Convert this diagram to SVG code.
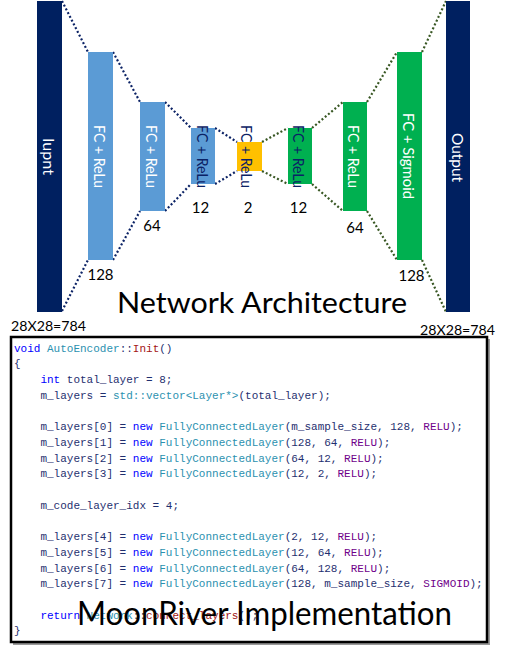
<svg xmlns="http://www.w3.org/2000/svg" width="506" height="653" viewBox="0 0 506 653">
<style>
.lbl{font-family:Lato,"Open Sans","Liberation Sans",sans-serif;font-size:16px;text-anchor:middle;dominant-baseline:central}
.w{fill:#ffffff}
.n{fill:#0b2265}
.num{font-family:Lato,"Open Sans","Liberation Sans",sans-serif;font-size:15px;text-anchor:middle;fill:#000}
.dim{font-family:Lato,"Open Sans","Liberation Sans",sans-serif;font-size:14px;fill:#000}
.title{font-family:Lato,"Open Sans","Liberation Sans",sans-serif;fill:#000}
.code{font-family:"Liberation Mono","DejaVu Sans Mono",monospace;font-size:11px;fill:#1f2f6f}
.k{fill:#0000ff}.t{fill:#2b91af}.f{fill:#a31515}.m{fill:#6f008a}
.cl{fill:none;stroke:#0b2265;stroke-width:2.2;stroke-dasharray:2 2.2}
.cr{fill:none;stroke:#385723;stroke-width:2.2;stroke-dasharray:2 2.2}
.dark{fill:#002060}.blue{fill:#5b9bd5}.yel{fill:#ffc000}.grn{fill:#00b050}
</style>
<rect width="506" height="653" fill="#fff"/>
<g id="connectors">
<path class="cl" d="M62 1L88 52M62 311L88 260M113 52L140 102M113 260L140 211M165 102L191 128M165 211L191 184M215 128L237 142M215 184L237 171"/>
<path class="cr" d="M262 142L288 128M262 171L288 184M312 128L343 102M312 184L343 211M367 102L397 52M367 211L397 260M422 52L446 1M422 260L446 312"/>
</g>
<g id="input">
<rect class="dark" x="37" y="1" width="25" height="311"/>
<text class="lbl w" transform="translate(49.5 156.5) rotate(90)" textLength="37" lengthAdjust="spacingAndGlyphs">Iupnt</text>
</g>
<g id="fc1">
<rect class="blue" x="88" y="52" width="25" height="208"/>
<text class="lbl w" transform="translate(100.5 156.5) rotate(90)" textLength="63" lengthAdjust="spacingAndGlyphs">FC + ReLu</text>
<text class="num" x="100.5" y="280">128</text>
</g>
<g id="fc2">
<rect class="blue" x="140" y="102" width="25" height="109"/>
<text class="lbl w" transform="translate(152.5 156.5) rotate(90)" textLength="63" lengthAdjust="spacingAndGlyphs">FC + ReLu</text>
<text class="num" x="152" y="231">64</text>
</g>
<g id="fc3">
<rect class="blue" x="191" y="128" width="24" height="56"/>
<text class="lbl n" transform="translate(203 156.5) rotate(90)" textLength="63" lengthAdjust="spacingAndGlyphs">FC + ReLu</text>
<text class="num" x="200.5" y="213">12</text>
</g>
<g id="code">
<rect class="yel" x="237" y="142" width="25" height="29"/>
<text class="lbl n" transform="translate(247.5 156.5) rotate(90)" textLength="63" lengthAdjust="spacingAndGlyphs">FC + ReLu</text>
<text class="num" x="248" y="213">2</text>
</g>
<g id="fc4">
<rect class="grn" x="288" y="128" width="24" height="56"/>
<text class="lbl n" transform="translate(299 156.5) rotate(90)" textLength="63" lengthAdjust="spacingAndGlyphs">FC + ReLu</text>
<text class="num" x="298.5" y="213">12</text>
</g>
<g id="fc5">
<rect class="grn" x="343" y="102" width="24" height="109"/>
<text class="lbl w" transform="translate(354.5 156.5) rotate(90)" textLength="63" lengthAdjust="spacingAndGlyphs">FC + ReLu</text>
<text class="num" x="355" y="233">64</text>
</g>
<g id="fc6">
<rect class="grn" x="397" y="52" width="25" height="208"/>
<text class="lbl w" transform="translate(409.5 156) rotate(90)" textLength="86" lengthAdjust="spacingAndGlyphs">FC + Sigmoid</text>
<text class="num" x="411.5" y="281">128</text>
</g>
<g id="output">
<rect class="dark" x="446" y="1" width="24" height="311"/>
<text class="lbl w" transform="translate(458 157.5) rotate(90)" textLength="49" lengthAdjust="spacingAndGlyphs">Output</text>
</g>
<text class="dim" x="11" y="331" textLength="75" lengthAdjust="spacingAndGlyphs">28X28=784</text>
<text class="dim" x="420" y="335" textLength="75" lengthAdjust="spacingAndGlyphs">28X28=784</text>
<text class="title" x="117" y="313" font-size="29" textLength="290" lengthAdjust="spacingAndGlyphs">Network Architecture</text>
<g id="code-box">
<rect x="13" y="339" width="477" height="306" fill="#9a9a9a"/>
<rect x="11" y="337" width="476" height="305" fill="#fff" stroke="#000" stroke-width="2.5"/>
<text class="code" x="14" y="351.7"><tspan class="k">void</tspan> <tspan class="t">AutoEncoder</tspan>::<tspan class="f">Init</tspan>()</text>
<text class="code" x="14" y="367.4">{</text>
<text class="code" x="40.4" y="383.1"><tspan class="k">int</tspan> total_layer = 8;</text>
<text class="code" x="40.4" y="398.8">m_layers = <tspan class="t">std::vector&lt;Layer*&gt;</tspan>(total_layer);</text>
<text class="code" x="40.4" y="430.2">m_layers[0] = <tspan class="k">new</tspan> <tspan class="t">FullyConnectedLayer</tspan>(m_sample_size, 128, <tspan class="m">RELU</tspan>);</text>
<text class="code" x="40.4" y="445.9">m_layers[1] = <tspan class="k">new</tspan> <tspan class="t">FullyConnectedLayer</tspan>(128, 64, <tspan class="m">RELU</tspan>);</text>
<text class="code" x="40.4" y="461.6">m_layers[2] = <tspan class="k">new</tspan> <tspan class="t">FullyConnectedLayer</tspan>(64, 12, <tspan class="m">RELU</tspan>);</text>
<text class="code" x="40.4" y="477.3">m_layers[3] = <tspan class="k">new</tspan> <tspan class="t">FullyConnectedLayer</tspan>(12, 2, <tspan class="m">RELU</tspan>);</text>
<text class="code" x="40.4" y="508.7">m_code_layer_idx = 4;</text>
<text class="code" x="40.4" y="540.1">m_layers[4] = <tspan class="k">new</tspan> <tspan class="t">FullyConnectedLayer</tspan>(2, 12, <tspan class="m">RELU</tspan>);</text>
<text class="code" x="40.4" y="555.8">m_layers[5] = <tspan class="k">new</tspan> <tspan class="t">FullyConnectedLayer</tspan>(12, 64, <tspan class="m">RELU</tspan>);</text>
<text class="code" x="40.4" y="571.5">m_layers[6] = <tspan class="k">new</tspan> <tspan class="t">FullyConnectedLayer</tspan>(64, 128, <tspan class="m">RELU</tspan>);</text>
<text class="code" x="40.4" y="587.2">m_layers[7] = <tspan class="k">new</tspan> <tspan class="t">FullyConnectedLayer</tspan>(128, m_sample_size, <tspan class="m">SIGMOID</tspan>);</text>
<text class="code" x="40.4" y="618.6"><tspan class="k">return</tspan> <tspan class="t">Network</tspan>::<tspan class="f">connect_layers</tspan>();</text>
<text class="code" x="14" y="634.3">}</text>
<text class="title" x="77" y="625" font-size="32" textLength="375" lengthAdjust="spacingAndGlyphs">MoonRiver Implementation</text>
</g>
</svg>
